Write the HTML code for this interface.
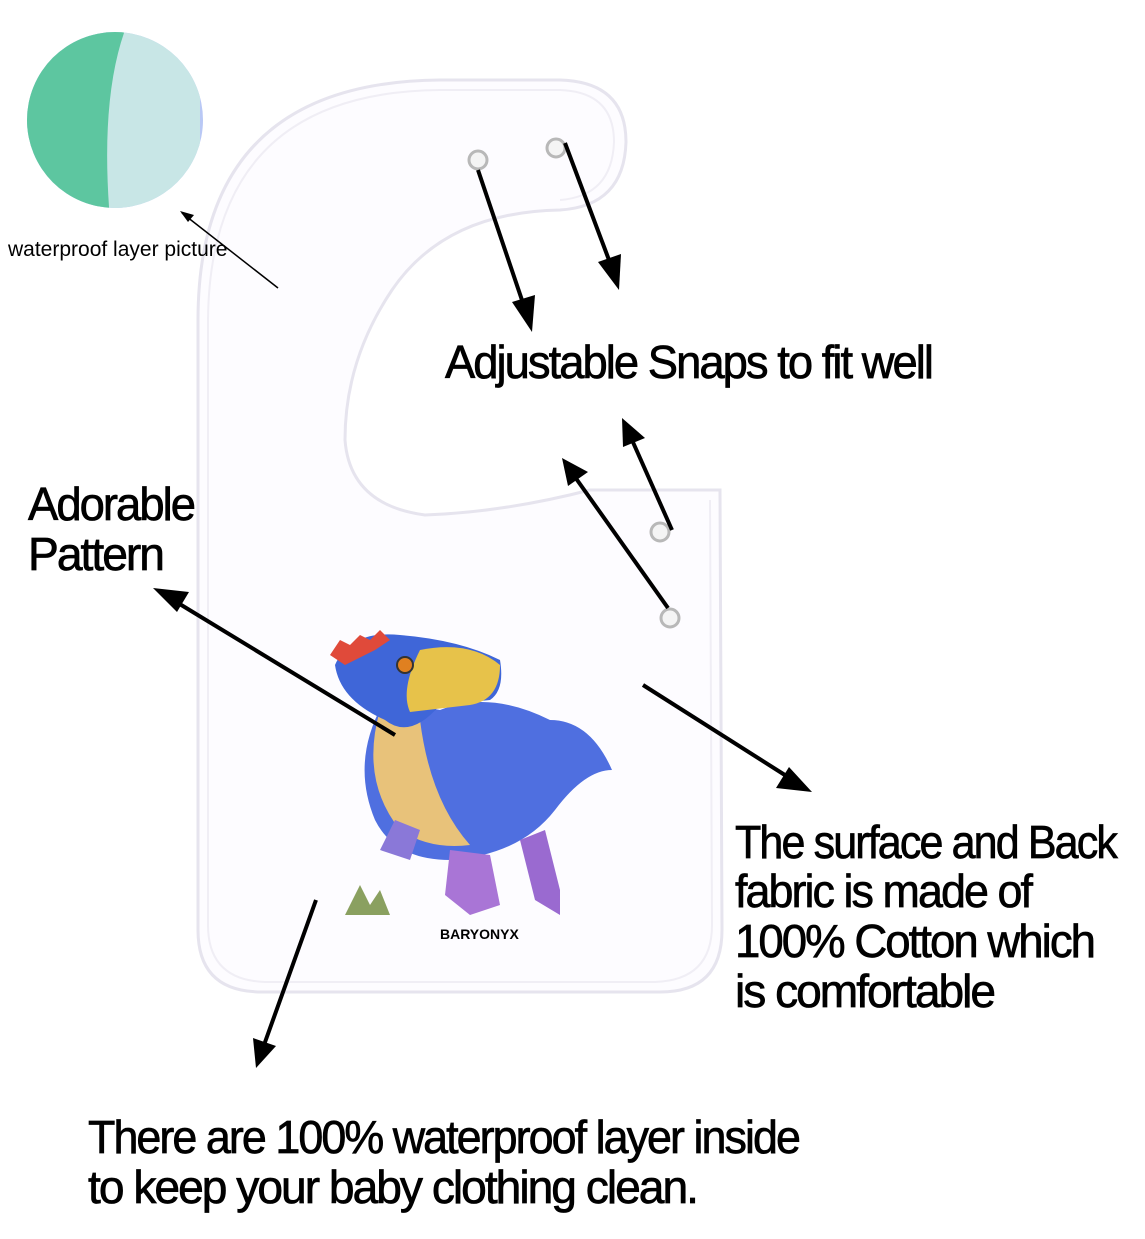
<!DOCTYPE html>
<html><head><meta charset="utf-8"><style>
html,body{margin:0;padding:0;background:#fff;}
svg{display:block;}
text{font-family:"Liberation Sans",sans-serif;fill:#000;}
</style></head><body>
<svg width="1145" height="1239" viewBox="0 0 1145 1239" xmlns="http://www.w3.org/2000/svg">
<defs>
<clipPath id="cc"><circle cx="115" cy="120" r="88"/></clipPath>
</defs>
<rect width="1145" height="1239" fill="#fff"/>
<path d="M720 490 L722 930 Q722 992 660 992 L262 992 Q198 992 198 930 L198 320 Q198 82 440 80 L560 80 Q626 82 626 142 Q624 206 560 210 Q445 212 392 290 Q345 360 345 440 Q350 505 425 515 Q505 512 590 490 Z" fill="#fdfcff" stroke="#e6e4ee" stroke-width="3"/>
<path d="M710 500 L712 925 Q712 980 655 982 L265 982 Q208 980 208 925 L208 320 Q210 92 440 90 L560 90 Q614 92 614 142 Q612 196 560 200" fill="none" stroke="#f0eef5" stroke-width="2"/>
<g fill="#f4f4f4" stroke="#b8b8b8" stroke-width="3">
<circle cx="478" cy="160" r="9"/><circle cx="556" cy="148" r="9"/><circle cx="660" cy="532" r="9"/><circle cx="670" cy="618" r="9"/>
</g>
<g>
<path d="M385 700 Q350 760 375 820 Q395 860 450 860 Q520 855 555 810 Q585 770 612 770 Q590 720 550 720 Q490 690 440 710 Z" fill="#4f6fe0"/>
<path d="M380 710 Q360 780 400 830 Q430 850 470 845 Q430 800 420 720 Z" fill="#e8c27a"/>
<path d="M450 850 L445 895 L470 915 L500 905 L490 855 Z" fill="#a975d6"/>
<path d="M520 840 L535 900 L560 915 L560 890 L545 830 Z" fill="#9a6ad0"/>
<path d="M395 820 L380 850 L410 860 L420 830 Z" fill="#8a78d8"/>
<path d="M335 665 Q350 630 400 635 Q460 640 500 660 Q505 690 490 700 L440 705 Q410 740 385 720 Q340 700 335 665 Z" fill="#3f66d8"/>
<path d="M420 650 Q470 640 500 665 Q500 700 470 705 L410 712 Q400 690 420 650 Z" fill="#e7c24a"/>
<path d="M330 655 L340 640 L350 645 L360 635 L370 640 L380 630 L390 640 L375 650 L345 665 Z" fill="#e04a3a"/>
<circle cx="405" cy="665" r="8" fill="#e08020" stroke="#333" stroke-width="2"/>
<text x="440" y="939" font-size="14" font-weight="bold" fill="#333">BARYONYX</text>
<path d="M345 915 L360 885 L370 905 L380 890 L390 915 Z" fill="#8aa060"/>
</g>
<g clip-path="url(#cc)">
<rect x="20" y="30" width="200" height="190" fill="#b9c8f5"/>
<rect x="20" y="30" width="180" height="190" fill="#c8e6e6"/>
<path d="M20 30 L125 30 Q100 100 110 220 L20 220 Z" fill="#5dc6a0"/>
</g>
<text x="8" y="256" font-size="21" fill="#222">waterproof layer picture</text>
<line x1="278" y1="288" x2="182" y2="213" stroke="#000" stroke-width="1.5"/>
<polygon points="180,211 194,215 188,222" fill="#000"/>
<g stroke="#000" stroke-width="4" fill="#000">
<line x1="478" y1="170" x2="526" y2="312"/><polygon points="532,332 512,302 535,295" stroke="none"/>
<line x1="565" y1="143" x2="612" y2="268"/><polygon points="619,290 598,262 621,254" stroke="none"/>
<line x1="672" y1="530" x2="632" y2="440"/><polygon points="622,418 645,438 623,447" stroke="none"/>
<line x1="668" y1="608" x2="575" y2="477"/><polygon points="562,458 588,472 568,486" stroke="none"/>
<line x1="395" y1="735" x2="178" y2="603"/><polygon points="153,588 189,592 177,612" stroke="none"/>
<line x1="643" y1="685" x2="788" y2="777"/><polygon points="812,792 776,788 789,767" stroke="none"/>
<line x1="316" y1="900" x2="264" y2="1045"/><polygon points="256,1068 253,1038 276,1046" stroke="none"/>
</g>
<g font-size="46" letter-spacing="-2" stroke="#000" stroke-width="0.7">
<text x="445" y="378" textLength="487" lengthAdjust="spacingAndGlyphs">Adjustable Snaps to fit well</text>
<text x="28" y="520" textLength="166" lengthAdjust="spacingAndGlyphs">Adorable</text>
<text x="28" y="570" textLength="135" lengthAdjust="spacingAndGlyphs">Pattern</text>
<text x="735" y="858" textLength="381" lengthAdjust="spacingAndGlyphs">The surface and Back</text>
<text x="735" y="907" textLength="296" lengthAdjust="spacingAndGlyphs">fabric is made of</text>
<text x="735" y="957" textLength="359" lengthAdjust="spacingAndGlyphs">100% Cotton which</text>
<text x="735" y="1007" textLength="259" lengthAdjust="spacingAndGlyphs">is comfortable</text>
<text x="88" y="1153" textLength="711" lengthAdjust="spacingAndGlyphs">There are 100% waterproof layer inside</text>
<text x="88" y="1203" textLength="609" lengthAdjust="spacingAndGlyphs">to keep your baby clothing  clean.</text>
</g>
</svg>
</body></html>
